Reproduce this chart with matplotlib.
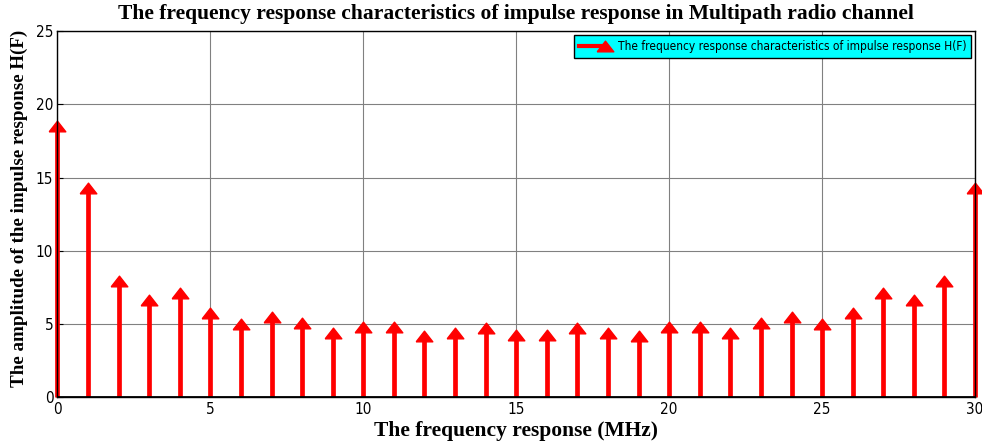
import matplotlib.pyplot as plt
from matplotlib.lines import Line2D
from matplotlib.legend_handler import HandlerBase
from matplotlib import font_manager
import numpy as np

freq = list(range(31))
amplitude = [18.5, 14.3, 7.97, 6.66, 7.12, 5.75, 4.98, 5.48, 5.08, 4.40,
             4.79, 4.79, 4.21, 4.40, 4.75, 4.24, 4.24, 4.75, 4.40, 4.21,
             4.79, 4.79, 4.40, 5.08, 5.48, 4.98, 5.75, 7.12, 6.66, 7.97, 14.3]
x_ticks = [0, 5, 10, 15, 20, 25, 30]
y_ticks = [0, 5, 10, 15, 20, 25]

serif = ['Liberation Serif', 'DejaVu Serif']
narrow = font_manager.FontProperties(family='DejaVu Sans', stretch='condensed', size=11)

# wide, flat triangle like the MATLAB '^'
tri = [(-1, -0.64), (1, -0.64), (0, 0.64), (-1, -0.64)]


class ArrowHandler(HandlerBase):
    # line with the arrow head sitting at its right end
    def create_artists(self, legend, orig_handle, xdescent, ydescent, width, height, fontsize, trans):
        y = height / 2 - ydescent
        x0, x1 = -xdescent, -xdescent + width
        line = Line2D([x0, x1 - 4], [y, y], color='red', lw=3, transform=trans)
        head = Line2D([x1 - 4], [y], color='red', marker=tri, markersize=12,
                      linestyle='none', transform=trans)
        return [line, head]


fig = plt.figure(figsize=(9.82, 4.44), dpi=100)
ax = fig.add_axes([0.0585, 0.105, 0.9344, 0.825])

markers, stems, base = ax.stem(freq, amplitude, linefmt='r-', markerfmt='r^', basefmt='k-')
stems.set_linewidth(3.4)
markers.set_marker(tri)
markers.set_markersize(12)
markers.set_markeredgecolor('red')
markers.set_clip_on(False)
stems.set_clip_on(False)
base.set_linewidth(2)
base.set_color('black')

ax.set_xlim(0, 30)
ax.set_ylim(0, 25)
ax.set_xticks(x_ticks)
ax.set_yticks(y_ticks)
ax.tick_params(direction='in', length=4, pad=3)
for lab in ax.get_xticklabels() + ax.get_yticklabels():
    lab.set_fontproperties(narrow)

ax.grid(True, color='#808080', linewidth=0.8)
ax.set_axisbelow(True)
for s in ax.spines.values():
    s.set_color('black')
    s.set_linewidth(1)

ax.set_title('The frequency response characteristics of impulse response in Multipath radio channel',
             family=serif, fontweight='bold', fontsize=15.5, pad=8.5)
ax.set_xlabel('The frequency response (MHz)', family=serif, fontweight='bold', fontsize=15.5, labelpad=3.5)
ax.set_ylabel('The amplitude of the impulse response H(F)', family=serif, fontweight='bold',
              fontsize=13.7)
ax.yaxis.set_label_coords(-0.032, 0.517)

proxy = Line2D([], [], color='red')
leg = ax.legend([proxy], ['The frequency response characteristics of impulse response H(F)'],
                handler_map={proxy: ArrowHandler()},
                loc='upper right', fancybox=False, framealpha=1,
                facecolor='cyan', edgecolor='black', borderaxespad=0.3,
                borderpad=0.45, handlelength=2.6, handletextpad=0.6,
                prop=font_manager.FontProperties(family='DejaVu Sans', stretch='condensed', size=8.6))
leg.get_frame().set_linewidth(1)

fig.savefig('out.png', dpi=100, facecolor='white')
